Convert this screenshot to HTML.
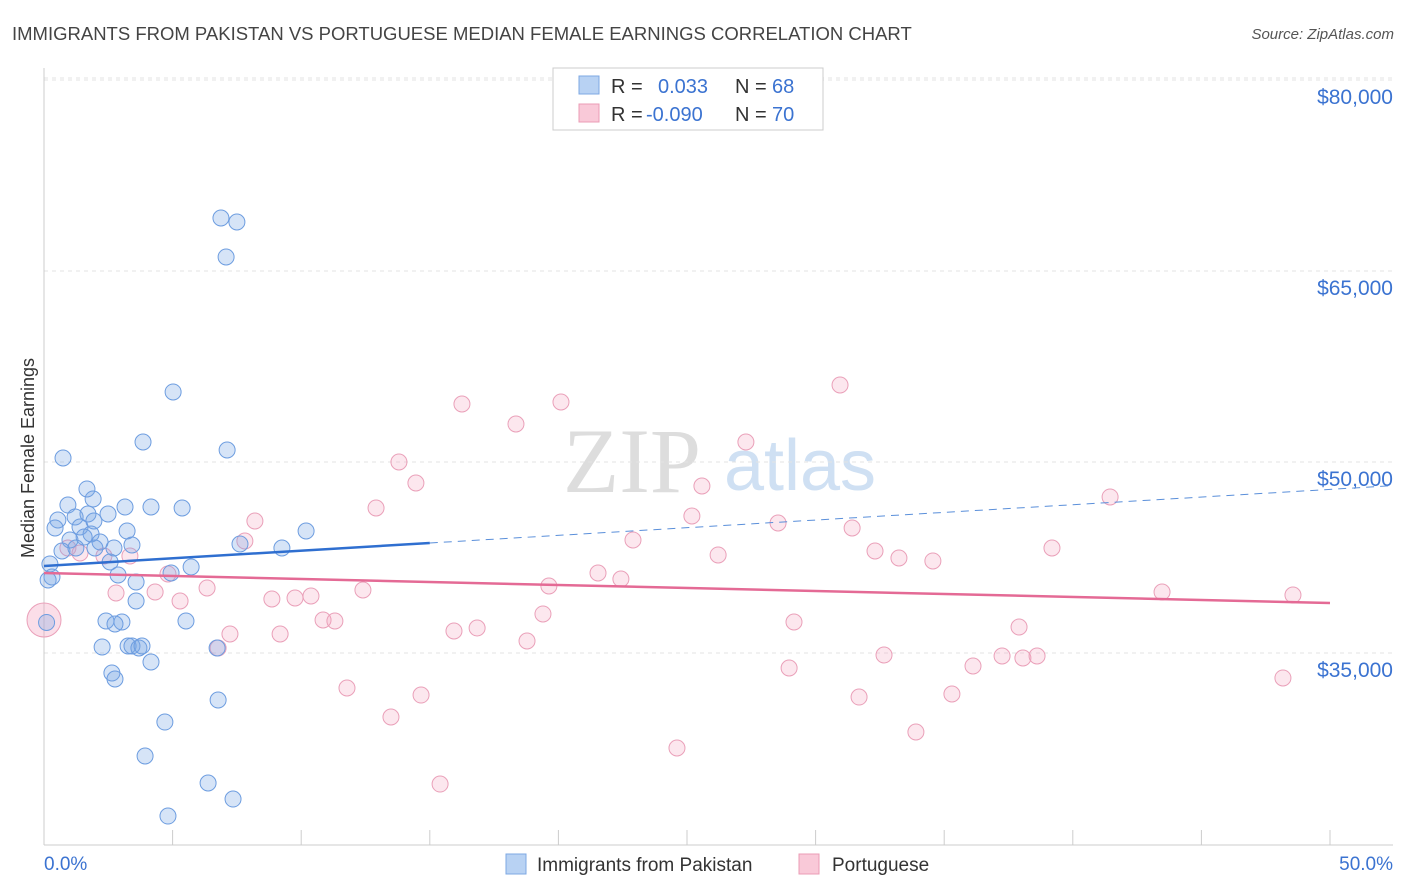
<!DOCTYPE html>
<html><head><meta charset="utf-8"><style>
body{margin:0;background:#fff;font-family:"Liberation Sans",sans-serif;}
svg{display:block}
</style></head><body>
<svg id="chart" width="1406" height="892" xmlns="http://www.w3.org/2000/svg">
<text x="12" y="40" font-size="18.5" fill="#444">IMMIGRANTS FROM PAKISTAN VS PORTUGUESE MEDIAN FEMALE EARNINGS CORRELATION CHART</text>
<text x="1394" y="39" font-size="15" fill="#555" font-style="italic" text-anchor="end">Source: ZipAtlas.com</text>
<text x="0" y="0" transform="translate(34,458) rotate(-90)" font-size="18" fill="#333" text-anchor="middle">Median Female Earnings</text>
<g><text x="632" y="492" font-size="92" fill="#ddd" font-family="Liberation Serif,serif" text-anchor="middle">ZIP</text><text x="800" y="490" font-size="72" fill="#cfe0f3" text-anchor="middle">atlas</text></g>
<g id="grid"></g><g id="axes"></g><g id="pts"></g><g id="lines"></g>
<g>
<rect x="553" y="68" width="270" height="62" fill="#fff" stroke="#ccc"/>
<rect x="579" y="76" width="20" height="18" fill="#b8d2f3" stroke="#7ea8e3"/>
<rect x="579" y="104" width="20" height="18" fill="#f9c9d8" stroke="#eb9cb6"/>
<text x="611" y="93" font-size="20" fill="#333">R = </text><text x="658" y="93" font-size="20" fill="#3b73d1">0.033</text>
<text x="735" y="93" font-size="20" fill="#333">N = </text><text x="772" y="93" font-size="20" fill="#3b73d1">68</text>
<text x="611" y="121" font-size="20" fill="#333">R = </text><text x="646" y="121" font-size="20" fill="#3b73d1">-0.090</text>
<text x="735" y="121" font-size="20" fill="#333">N = </text><text x="772" y="121" font-size="20" fill="#3b73d1">70</text>
</g>
<g>
<rect x="506" y="854" width="20" height="20" fill="#b8d2f3" stroke="#7ea8e3"/>
<text x="537" y="871" font-size="19" fill="#333">Immigrants from Pakistan</text>
<rect x="799" y="854" width="20" height="20" fill="#f9c9d8" stroke="#eb9cb6"/>
<text x="832" y="871" font-size="19" fill="#333">Portuguese</text>
</g>
</svg>
<script>
const yTicks=[35000,50000,65000,80000];
const yTickLabels=["$35,000","$50,000","$65,000","$80,000"];
const xEndLabels=["0.0%","50.0%"];
const pakX=[6.88,7.50,7.08,5.02,3.85,7.12,0.74,1.67,1.91,3.15,4.16,5.37,0.93,0.54,1.21,1.71,2.49,1.94,0.43,1.40,1.83,3.23,10.19,1.01,1.56,2.18,3.42,7.62,9.25,0.70,1.24,1.98,2.72,2.57,0.23,5.72,4.94,2.88,0.31,0.16,3.58,3.58,2.41,3.03,2.76,5.52,2.26,3.27,3.42,3.69,3.81,6.73,4.16,2.64,2.76,6.77,4.70,3.93,6.38,7.35,4.82,0.1];
const pakY=[69163,68849,66100,55500,51572,50944,50316,47882,47097,46467,46467,46389,46624,45447,45682,45918,45918,45368,44818,44897,44347,44583,44583,43876,44111,43719,43483,43562,43248,43013,43248,43248,43248,42149,41992,41756,41285,41128,40971,40735,40578,39086,37515,37437,37280,37515,35473,35552,35552,35395,35552,35395,34295,33432,32960,31311,29583,26913,24793,23536,22201,37400];
const porX=[30.95,20.10,16.25,18.35,27.29,13.80,14.46,41.45,25.58,12.91,8.20,25.19,28.54,31.42,22.90,39.19,32.31,26.21,33.24,34.56,21.54,22.43,19.63,4.82,6.34,12.40,4.32,5.29,2.80,8.86,9.76,10.38,43.47,48.56,19.40,10.85,11.31,16.84,15.94,29.16,37.91,7.23,9.18,18.78,6.77,32.66,37.25,38.06,38.61,36.12,28.97,11.78,35.30,14.66,31.69,13.49,33.90,24.61,15.40,48.17,3.34,0.93,1.40,7.81,2.33];
const porY=[56048,54713,54556,52985,51572,50001,48352,47254,48117,46389,45368,45761,45211,44818,43876,43248,43013,42699,42463,42228,41285,40814,40264,41207,40107,39950,39793,39086,39715,39243,39322,39479,39793,39557,38066,37594,37515,36966,36730,37437,37044,36495,36495,35945,35395,34845,34766,34609,34766,33981,33824,32254,31782,31703,31546,29976,28798,27542,24714,33040,42620,43248,42856,43798,42620];
const bigPor=[0.0,37594];
const pakTrend=[41835,120.3];
const porTrend=[41285,-47.1];
const NS="http://www.w3.org/2000/svg";
const X=v=>44+v*25.72;
function Yp(v){return 80+(80000-v)/78.53;}
function mk(t,a,p){const e=document.createElementNS(NS,t);for(const k in a)e.setAttribute(k,a[k]);document.getElementById(p).appendChild(e);return e;}
let l=mk('line',{x1:44,x2:1393,y1:78,y2:78,stroke:'#e3e3e3','stroke-dasharray':'4,4'},'grid');


yTicks.forEach((t,i)=>{
 const g=mk('line',{x1:44,x2:1393,y1:Yp(t),y2:Yp(t),stroke:'#e3e3e3','stroke-dasharray':'4,4'},'grid');
 
 
 const tx=mk('text',{x:1393,y:Yp(t)+24,'font-size':21,fill:'#3b73d1','text-anchor':'end'},'axes');tx.textContent=yTickLabels[i];
 
 
});
let ax=mk('line',{x1:44,x2:44,y1:68,y2:845,stroke:'#ccc'},'axes');


let bx=mk('line',{x1:44,x2:1393,y1:845,y2:845,stroke:'#ccc'},'axes');


for(let i=0;i<=10;i++){const t=mk('line',{x1:X(i*5),x2:X(i*5),y1:830,y2:845,stroke:'#ccc'},'axes');
 
 }
[[0,'start'],[50,'end']].forEach((d,i)=>{const t=mk('text',{x:i?1393:44,y:870,'font-size':19,fill:'#3b73d1','text-anchor':d[1]},'axes');t.textContent=xEndLabels[i];
 
 });
porX.forEach((x,i)=>{const c=mk('circle',{cx:X(x),cy:Yp(porY[i]),r:8,fill:'rgba(244,160,188,0.25)',stroke:'#eaa0b9','stroke-width':1},'pts');
 
 });
let bp=mk('circle',{cx:X(bigPor[0]),cy:Yp(bigPor[1]),r:17,fill:'rgba(244,160,188,0.35)',stroke:'#eaa0b9'},'pts');


pakX.forEach((x,i)=>{const c=mk('circle',{cx:X(x),cy:Yp(pakY[i]),r:8,fill:'rgba(120,165,230,0.3)',stroke:'#6d9de0','stroke-width':1},'pts');
 
 });
const f=(tr,x)=>tr[0]+tr[1]*x;
let t1=mk('line',{x1:X(0),y1:Yp(f(pakTrend,0)),x2:X(15),y2:Yp(f(pakTrend,15)),stroke:'#2f6fd0','stroke-width':2.5},'lines');


let t2=mk('line',{x1:X(15),y1:Yp(f(pakTrend,15)),x2:X(52.45),y2:Yp(f(pakTrend,52.45)),stroke:'#5a8fda','stroke-width':1,'stroke-dasharray':'8,6'},'lines');


let t3=mk('line',{x1:X(0),y1:Yp(f(porTrend,0)),x2:X(50),y2:Yp(f(porTrend,50)),stroke:'#e46a95','stroke-width':2.5},'lines');


</script>
</body></html>
